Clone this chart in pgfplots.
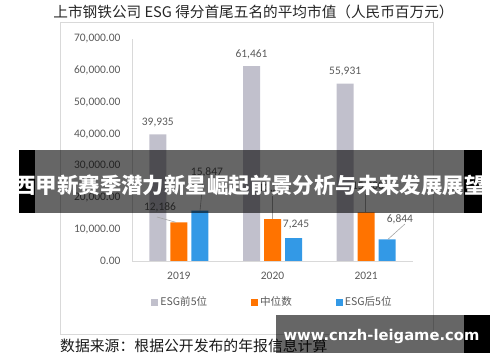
\documentclass[border=0pt]{standalone}
\usepackage{fontspec}
\usepackage{pgfplots}
\pgfplotsset{compat=1.18}
\setmainfont{Carlito}
\newfontfamily\cjk{Noto Sans CJK SC}
\newfontfamily\wm{DejaVu Sans}
\definecolor{cgray}{HTML}{C1C0CC}
\definecolor{corange}{HTML}{FF7300}
\definecolor{cblue}{HTML}{3399E6}
\definecolor{ctxt}{HTML}{595959}
\definecolor{cframe}{HTML}{D9D9D9}
\definecolor{clead}{HTML}{A6A6A6}
\begin{document}
\begin{tikzpicture}
\useasboundingbox (0bp,0bp) rectangle (500bp,362bp);
\draw[cframe, line width=0.8bp] (60bp,28bp) rectangle (433bp,340bp);
\node[font=\cjk\fontsize{14.7}{16}\selectfont, text=black!85] at (253.5bp,350bp) {上市钢铁公司 ESG 得分首尾五名的平均市值（人民币百万元）};
\begin{axis}[
  at={(132bp,101bp)}, anchor=south west,
  width=281bp, height=222bp, scale only axis,
  ybar,
  bar width=17bp,
  xmin=-0.5, xmax=2.5,
  ymin=0, ymax=70000,
  scaled y ticks=false,
  xtick={0,1,2}, xticklabels={2019,2020,2021},
  ytick={0,10000,20000,30000,40000,50000,60000,70000},
  yticklabels={0.00,{10,000.00},{20,000.00},{30,000.00},{40,000.00},{50,000.00},{60,000.00},{70,000.00}},
  /pgf/number format/assume math mode=true,
  /pgf/number format/1000 sep={,},
  axis x line*=bottom, axis y line*=left,
  axis line style={cframe, line width=0.8bp, -},
  major tick length=0pt,
  tick label style={font=\fontsize{11.5}{13}\selectfont, text=ctxt},
  yticklabel style={xshift=-8bp},
  xticklabel style={yshift=-8bp},
  legend style={at={(0.5,-0.185)}, anchor=center, draw=none, fill=none,
    legend columns=3, font=\cjk\fontsize{10.6}{13}\selectfont, text=ctxt,
    /tikz/every even column/.append style={column sep=42bp}},
  legend cell align=left,
  clip=false,
]
\addplot[draw=none, fill=cgray, bar shift=-21bp,
  legend image code/.code={\fill[cgray] (0bp,-3.5bp) rectangle (7bp,3.5bp);},
  nodes near coords,
  every node near coord/.append style={font=\fontsize{11.5}{13}\selectfont, text=ctxt, anchor=south, yshift=4bp}]
  coordinates {(0,39935) (1,61461) (2,55931)};
\addplot[draw=none, fill=corange, bar shift=0bp,
  legend image code/.code={\fill[corange] (0bp,-3.5bp) rectangle (7bp,3.5bp);}]
  coordinates {(0,12186) (1,13214) (2,15300)};
\addplot[draw=none, fill=cblue, bar shift=21bp,
  legend image code/.code={\fill[cblue] (0bp,-3.5bp) rectangle (7bp,3.5bp);}]
  coordinates {(0,15847) (1,7245) (2,6844)};
\legend{ESG前5位,中位数,ESG后5位}
% data labels moved off their bars, with leader lines
\draw[clead, line width=0.6bp] (axis cs:-0.233,13873) -- (axis cs:-0.03,12186);
\node[font=\fontsize{11.5}{13}\selectfont, text=ctxt] at (axis cs:-0.201,17026) {12,186};
\draw[clead, line width=0.6bp] (axis cs:0.258,25224) -- (axis cs:0.226,15847);
\node[font=\fontsize{11.5}{13}\selectfont, text=ctxt] at (axis cs:0.30,28060) {15,847};
\draw[clead, line width=0.6bp] (axis cs:1.0,20500) -- (axis cs:1.0,13214);
\node[font=\fontsize{11.5}{13}\selectfont, text=ctxt] at (axis cs:1.02,23000) {13,214};
\draw[clead, line width=0.6bp] (axis cs:1.99,21000) -- (axis cs:1.99,15300);
\node[font=\fontsize{11.5}{13}\selectfont, text=ctxt] at (axis cs:2.02,23500) {15,300};
\node[font=\fontsize{11.5}{13}\selectfont, text=ctxt] at (axis cs:1.251,11351) {7,245};
\draw[clead, line width=0.6bp] (axis cs:2.414,11666) -- (axis cs:2.233,6844);
\node[font=\fontsize{11.5}{13}\selectfont, text=ctxt] at (axis cs:2.361,13243) {6,844};
\end{axis}
\node[anchor=west, font=\cjk\fontsize{14.9}{16}\selectfont, text=black!90, inner sep=0pt] at (60bp,16bp) {数据来源：根据公开发布的年报信息计算};
% overlay banner
\fill[black, opacity=0.6] (35bp,149bp) rectangle (464bp,212bp);
\fill[black] (19bp,149bp) rectangle (35bp,212bp);
\fill[black] (464bp,149bp) rectangle (482bp,212bp);
\node[font=\cjk\bfseries\fontsize{21.5}{24}\selectfont, text=white] at (250bp,177bp) {西甲新赛季潜力新星崛起前景分析与未来发展展望};
% watermark
\fill[black, opacity=0.6] (276bp,9bp) rectangle (464bp,47bp);
\fill[black] (464bp,9bp) rectangle (490bp,47bp);
\node[font=\wm\bfseries\fontsize{14.8}{16}\selectfont, text=white] at (381.5bp,26bp) {www.cnzh-leigame.com};
\end{tikzpicture}
\end{document}
